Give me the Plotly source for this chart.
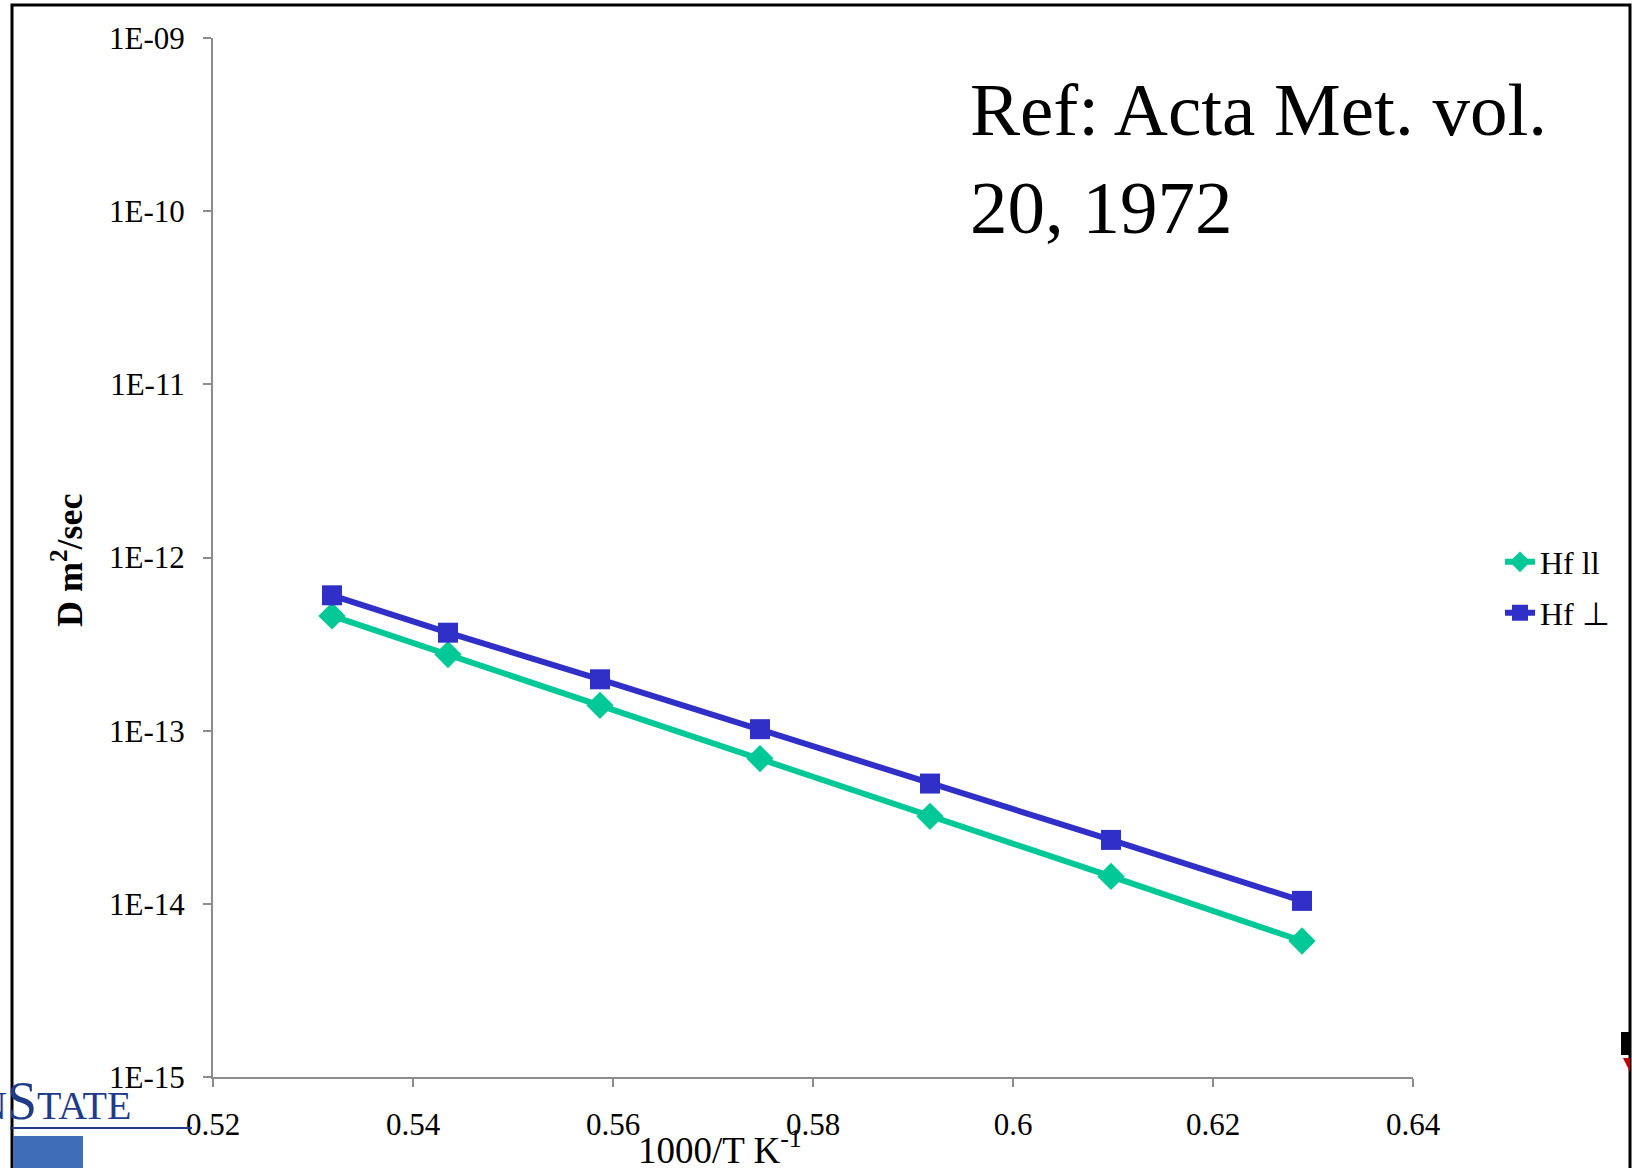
import plotly.graph_objects as go

# Data: 1000/T (K^-1) and diffusion coefficient D (m^2/s)
inv_T = [0.5319, 0.5435, 0.5587, 0.5747, 0.5917, 0.6098, 0.6289]
hf_par = [4.6e-13, 2.75e-13, 1.40e-13, 6.9e-14, 3.2e-14, 1.44e-14, 6.1e-15]
hf_perp = [6.05e-13, 3.68e-13, 1.98e-13, 1.02e-13, 4.95e-14, 2.34e-14, 1.04e-14]
series_names = ["Hf ll", "Hf \u22a5"]

y_tickvals = [1e-15, 1e-14, 1e-13, 1e-12, 1e-11, 1e-10, 1e-9]
y_ticktext = ["1E-15", "1E-14", "1E-13", "1E-12", "1E-11", "1E-10", "1E-09"]
x_tickvals = [0.52, 0.54, 0.56, 0.58, 0.60, 0.62, 0.64]
x_ticktext = ["0.52", "0.54", "0.56", "0.58", "0.6", "0.62", "0.64"]

SERIF = "Liberation Serif"
GREEN = "#00C896"
BLUE = "#3030C8"
W, H = 1632, 1168
L, R, T, B = 213, 1413, 38, 1077

fig = go.Figure()
fig.add_trace(go.Scatter(
    x=inv_T, y=hf_par, name=series_names[0], mode="lines+markers",
    line=dict(color=GREEN, width=6),
    marker=dict(symbol="diamond", size=21, color=GREEN),
    legend="legend",
))
fig.add_trace(go.Scatter(
    x=inv_T, y=hf_perp, name=series_names[1], mode="lines+markers",
    line=dict(color=BLUE, width=6),
    marker=dict(symbol="square", size=20, color=BLUE),
    legend="legend2",
))

def px(xp):
    return (xp - L) / (R - L)

def py(yp):
    return (B - yp) / (B - T)

leg_common = dict(font=dict(family=SERIF, size=32, color="black"),
                  bgcolor="rgba(0,0,0,0)", borderwidth=0,
                  xanchor="left", yanchor="middle")

fig.update_layout(
    width=W, height=H,
    margin=dict(l=L, r=W - R, t=T, b=H - B, pad=0),
    paper_bgcolor="white", plot_bgcolor="white",
    font=dict(family=SERIF, size=30, color="black"),
    showlegend=True,
    legend=dict(x=px(1500), y=py(562), **leg_common),
    legend2=dict(x=px(1500), y=py(613), **leg_common),
    xaxis=dict(
        range=[0.52, 0.64], tickvals=x_tickvals, ticktext=x_ticktext,
        showline=True, linecolor="#8c8c8c", linewidth=2,
        ticks="outside", ticklen=8, tickcolor="#8c8c8c", tickwidth=2,
        showgrid=False, zeroline=False,
        tickfont=dict(family=SERIF, size=31, color="black"),
        ticklabelstandoff=11,
    ),
    yaxis=dict(
        type="log", range=[-15, -9], tickvals=y_tickvals, ticktext=y_ticktext,
        showline=True, linecolor="#8c8c8c", linewidth=2,
        ticks="outside", ticklen=8, tickcolor="#8c8c8c", tickwidth=2,
        showgrid=False, zeroline=False,
        tickfont=dict(family=SERIF, size=31, color="black"),
        ticklabelstandoff=12,
    ),
)

# axis titles
fig.add_annotation(text="1000/T K<sup>-1</sup>", xref="paper", yref="paper",
                   x=px(720), y=py(1147), showarrow=False,
                   font=dict(family=SERIF, size=37, color="black"),
                   xanchor="center", yanchor="middle")
fig.add_annotation(text="<b>D m<sup>2</sup>/sec</b>", xref="paper", yref="paper",
                   x=px(68), y=py(560), showarrow=False, textangle=-90,
                   font=dict(family=SERIF, size=36, color="black"),
                   xanchor="center", yanchor="middle")

# reference text
fig.add_annotation(text="Ref: Acta Met. vol.<br>20, 1972", xref="paper", yref="paper",
                   x=px(968), y=py(66), showarrow=False, align="left",
                   font=dict(family=SERIF, size=75, color="black"),
                   xanchor="left", yanchor="top")

# slide frame
fig.add_shape(type="rect", xref="paper", yref="paper",
              x0=px(12), x1=px(1630), y0=py(1200), y1=py(5),
              line=dict(color="black", width=3), layer="above")

# Penn State logo fragment
fig.add_annotation(text="N<span style='font-size:54px'>S</span>TATE", xref="paper", yref="paper",
                   x=px(-24), y=py(1101), showarrow=False,
                   font=dict(family=SERIF, size=40, color="#1F3C88"),
                   xanchor="left", yanchor="middle")
fig.add_shape(type="line", xref="paper", yref="paper",
              x0=px(10), x1=px(192), y0=py(1128), y1=py(1128),
              line=dict(color="#1F3C88", width=2))
fig.add_shape(type="rect", xref="paper", yref="paper",
              x0=px(13), x1=px(83), y0=py(1168), y1=py(1136),
              line=dict(width=0), fillcolor="#3F6DB8")

# tiny artefacts at bottom right edge
fig.add_shape(type="rect", xref="paper", yref="paper",
              x0=px(1621), x1=px(1630), y0=py(1055), y1=py(1032),
              line=dict(width=0), fillcolor="black")
fig.add_shape(type="path", xref="paper", yref="paper",
              path=f"M {px(1623)} {py(1058)} L {px(1630)} {py(1058)} L {px(1630)} {py(1072)} Z",
              line=dict(width=0), fillcolor="#C00000")

fig.write_html("out.html")
